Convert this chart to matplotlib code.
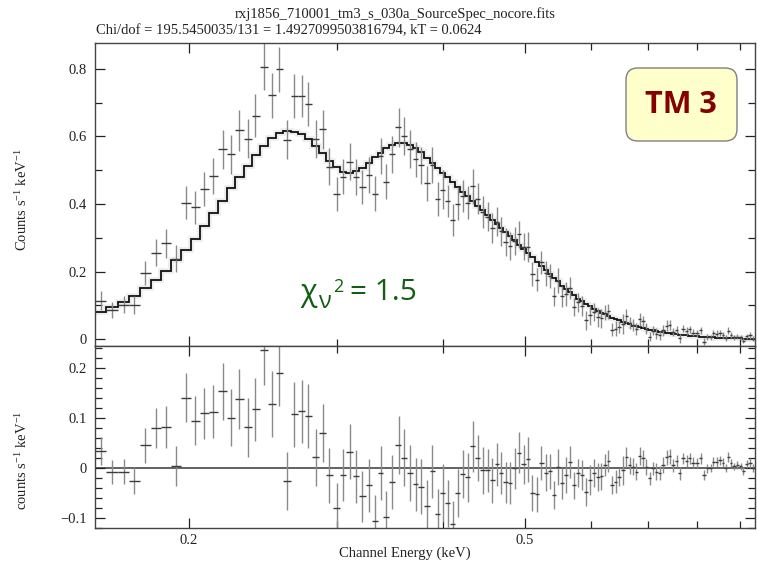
import numpy as np
import matplotlib
matplotlib.use('Agg')
import matplotlib.pyplot as plt
import matplotlib.patheffects as pe
from matplotlib.ticker import FixedLocator, FixedFormatter, NullFormatter, MultipleLocator
from matplotlib.patches import FancyBboxPatch
from matplotlib.transforms import IdentityTransform

plt.rcParams['font.family'] = ['Liberation Serif', 'DejaVu Serif']
plt.rcParams['mathtext.fontset'] = 'custom'
plt.rcParams['mathtext.rm'] = 'Liberation Serif'
plt.rcParams['mathtext.it'] = 'Liberation Serif:italic'

title = 'rxj1856_710001_tm3_s_030a_SourceSpec_nocore.fits'
subtitle = 'Chi/dof = 195.5450035/131 = 1.4927099503816794, kT = 0.0624'

# channel energies (keV, bin centres)
energy = [0.1573, 0.1621, 0.1674, 0.1723, 0.1776, 0.1829, 0.1879, 0.1931, 0.1985, 0.2034,
          0.2086, 0.2138, 0.2193, 0.2244, 0.2296, 0.2349, 0.2399, 0.2454, 0.2510, 0.2561,
          0.2615, 0.2668, 0.2722, 0.2772, 0.2831, 0.2883, 0.2936, 0.2995, 0.3050, 0.3101,
          0.3158, 0.3210, 0.3269, 0.3320, 0.3375, 0.3428, 0.3485, 0.3545, 0.3597, 0.3653,
          0.3714, 0.3772, 0.3830, 0.3887, 0.3947, 0.4001, 0.4056, 0.4112, 0.4169, 0.4226,
          0.4284, 0.4343, 0.4403, 0.4463, 0.4525, 0.4579, 0.4637, 0.4693, 0.4749, 0.4801,
          0.4867, 0.4925, 0.4988, 0.5047, 0.5108, 0.5173, 0.5235, 0.5297, 0.5356, 0.5414,
          0.5479, 0.5545, 0.5606, 0.5656, 0.5718, 0.5781, 0.5845, 0.5909, 0.5974, 0.6040,
          0.6106, 0.6168, 0.6229, 0.6287, 0.6356, 0.6414, 0.6472, 0.6543, 0.6604, 0.6664,
          0.6724, 0.6787, 0.6849, 0.6911, 0.6975, 0.7038, 0.7102, 0.7168, 0.7233, 0.7298,
          0.7367, 0.7433, 0.7501, 0.7571, 0.7640, 0.7709, 0.7781, 0.7851, 0.7922, 0.7996,
          0.8090, 0.8164, 0.8231, 0.8308, 0.8367, 0.8445, 0.8522, 0.8599, 0.8662, 0.8717,
          0.8782, 0.8854, 0.8934, 0.9017, 0.9082, 0.9167, 0.9249, 0.9333]

# folded model (counts s^-1 keV^-1)
model = [0.081, 0.096, 0.110, 0.127, 0.150, 0.175, 0.202, 0.234, 0.264, 0.296,
         0.335, 0.372, 0.409, 0.447, 0.481, 0.513, 0.545, 0.572, 0.595, 0.609,
         0.617, 0.614, 0.607, 0.593, 0.572, 0.552, 0.526, 0.511, 0.496, 0.493,
         0.498, 0.508, 0.522, 0.538, 0.552, 0.565, 0.575, 0.582, 0.582, 0.575,
         0.565, 0.553, 0.537, 0.522, 0.507, 0.493, 0.479, 0.465, 0.451, 0.437,
         0.423, 0.409, 0.395, 0.381, 0.367, 0.354, 0.341, 0.329, 0.317, 0.306,
         0.292, 0.280, 0.267, 0.255, 0.242, 0.229, 0.217, 0.205, 0.194, 0.182,
         0.171, 0.158, 0.148, 0.139, 0.129, 0.120, 0.112, 0.104, 0.097, 0.090,
         0.084, 0.078, 0.073, 0.068, 0.063, 0.059, 0.055, 0.050, 0.046, 0.043,
         0.040, 0.038, 0.035, 0.033, 0.030, 0.028, 0.026, 0.024, 0.022, 0.021,
         0.019, 0.018, 0.016, 0.014, 0.013, 0.012, 0.011, 0.010, 0.009, 0.008,
         0.007, 0.007, 0.006, 0.005, 0.005, 0.004, 0.004, 0.003, 0.003, 0.003,
         0.002, 0.002, 0.002, 0.002, 0.001, 0.001, 0.001, 0.001]

# observed spectrum (counts s^-1 keV^-1)
counts = [0.114, 0.087, 0.102, 0.101, 0.195, 0.255, 0.283, 0.238, 0.404, 0.390,
          0.444, 0.484, 0.562, 0.547, 0.618, 0.594, 0.662, 0.807, 0.722, 0.799,
          0.591, 0.721, 0.720, 0.696, 0.593, 0.621, 0.511, 0.430, 0.481, 0.525,
          0.481, 0.451, 0.487, 0.431, 0.542, 0.466, 0.547, 0.627, 0.602, 0.564,
          0.532, 0.515, 0.461, 0.515, 0.414, 0.442, 0.408, 0.352, 0.401, 0.424,
          0.404, 0.452, 0.415, 0.376, 0.362, 0.329, 0.348, 0.319, 0.288, 0.275,
          0.291, 0.310, 0.274, 0.272, 0.192, 0.176, 0.227, 0.195, 0.187, 0.127,
          0.173, 0.127, 0.133, 0.151, 0.094, 0.109, 0.097, 0.056, 0.072, 0.080,
          0.065, 0.061, 0.078, 0.082, 0.028, 0.031, 0.036, 0.045, 0.068, 0.048,
          0.042, 0.030, 0.058, 0.052, 0.031, 0.007, 0.025, 0.016, 0.011, 0.026,
          0.040, 0.041, 0.021, 0.028, 0.002, 0.031, 0.025, 0.029, 0.019, 0.017,
          0.026, -0.008, 0.005, 0.005, 0.017, 0.016, 0.019, 0.013, 0.003, 0.025,
          0.012, 0.005, 0.007, 0.005, -0.005, 0.008, 0.011, 0.001]

# 1-sigma errors
errors = [0.028, 0.024, 0.025, 0.027, 0.035, 0.040, 0.042, 0.040, 0.049, 0.049,
          0.051, 0.053, 0.057, 0.057, 0.060, 0.059, 0.063, 0.069, 0.066, 0.067,
          0.058, 0.065, 0.063, 0.064, 0.057, 0.058, 0.055, 0.050, 0.052, 0.055,
          0.053, 0.051, 0.053, 0.052, 0.054, 0.052, 0.054, 0.058, 0.057, 0.056,
          0.053, 0.055, 0.052, 0.053, 0.050, 0.058, 0.047, 0.047, 0.048, 0.048,
          0.049, 0.051, 0.046, 0.047, 0.043, 0.045, 0.043, 0.042, 0.041, 0.042,
          0.041, 0.041, 0.039, 0.045, 0.036, 0.035, 0.034, 0.037, 0.035, 0.028,
          0.036, 0.031, 0.036, 0.032, 0.027, 0.028, 0.030, 0.028, 0.030, 0.028,
          0.028, 0.027, 0.022, 0.022, 0.018, 0.023, 0.018, 0.029, 0.020, 0.017,
          0.017, 0.017, 0.018, 0.017, 0.016, 0.013, 0.013, 0.017, 0.014, 0.016,
          0.015, 0.015, 0.013, 0.012, 0.013, 0.011, 0.012, 0.011, 0.011, 0.010,
          0.011, 0.010, 0.009, 0.008, 0.009, 0.010, 0.009, 0.009, 0.008, 0.010,
          0.008, 0.007, 0.008, 0.007, 0.008, 0.008, 0.010, 0.008]

x_major = [0.2, 0.5]
x_major_labels = ['0.2', '0.5']
x_minor = [0.3, 0.4, 0.6, 0.7, 0.8, 0.9]
top_yticks = [0, 0.2, 0.4, 0.6, 0.8]
top_ylabels = ['0', '0.2', '0.4', '0.6', '0.8']
bot_yticks = [-0.1, 0, 0.1, 0.2]
bot_ylabels = ['\u22120.1', '0', '0.1', '0.2']

E = np.array(energy)
M = np.array(model)
C = np.array(counts)
S = np.array(errors)
R = C - M
mids = 0.5 * (E[:-1] + E[1:])
edges = np.concatenate([[E[0] - (mids[0] - E[0])], mids, [E[-1] + (E[-1] - mids[-1])]])
xlo = E - edges[:-1]
xhi = edges[1:] - E

W, H = 757, 569
fig = plt.figure(figsize=(W / 100, H / 100), dpi=100)
L, Rt = 95 / W, 755 / W
ax1 = fig.add_axes([L, 1 - 346 / H, Rt - L, (346 - 43) / H])
ax2 = fig.add_axes([L, 1 - 528 / H, Rt - L, (528 - 346) / H], sharex=ax1)

vcol = '#8a8a8a'
hcol = '#3c3c3c'
halo = [pe.Stroke(linewidth=4, foreground='#ececec'), pe.Normal()]

for ax, yy in ((ax1, C), (ax2, R)):
    ax.errorbar(E, yy, yerr=S, fmt='none', ecolor=vcol, elinewidth=1.0, capsize=0)
    ax.errorbar(E, yy, xerr=[xlo, xhi], fmt='none', ecolor=hcol, elinewidth=1.0, capsize=0)

ax1.stairs(M, edges, baseline=None, color='#111111', linewidth=1.3, path_effects=halo)
ax2.axhline(0, color='#555555', linewidth=1.3, zorder=0.5)

ax1.set_xscale('log')
ax1.set_xlim(0.1548, 0.938)
ax1.set_ylim(-0.0207, 0.877)
ax2.set_ylim(-0.1206, 0.2434)

for ax in (ax1, ax2):
    ax.xaxis.set_major_locator(FixedLocator(x_major))
    ax.xaxis.set_minor_locator(FixedLocator(x_minor))
    ax.xaxis.set_minor_formatter(NullFormatter())
    ax.tick_params(which='both', direction='in', top=True, right=True, colors='#222222',
                   labelsize=10.5, width=0.9)
    ax.tick_params(which='major', length=7)
    ax.tick_params(which='minor', length=5)
    ax.tick_params(axis='y', pad=6)
    for sp in ax.spines.values():
        sp.set_color('#444444')
        sp.set_linewidth(1.0)

ax1.xaxis.set_major_formatter(NullFormatter())
ax2.xaxis.set_major_formatter(FixedFormatter(x_major_labels))
ax2.tick_params(axis='x', pad=4)

ax1.yaxis.set_major_locator(FixedLocator(top_yticks))
ax1.yaxis.set_major_formatter(FixedFormatter(top_ylabels))
ax1.yaxis.set_minor_locator(MultipleLocator(0.1))
ax2.yaxis.set_major_locator(FixedLocator(bot_yticks))
ax2.yaxis.set_major_formatter(FixedFormatter(bot_ylabels))
ax2.yaxis.set_minor_locator(MultipleLocator(0.02))

fig.text(22 / W, 1 - 200 / H, r'Counts s$^{-1}$ keV$^{-1}$', rotation=90, ha='center', va='center',
         fontsize=10.5, color='#222222')
fig.text(22 / W, 1 - 460 / H, r'counts s$^{-1}$ keV$^{-1}$', rotation=90, ha='center', va='center',
         fontsize=10.5, color='#222222')
fig.text(405 / W, 1 - 553 / H, 'Channel Energy (keV)', ha='center', va='center', fontsize=10.5,
         color='#222222')
fig.text(395 / W, 1 - 14 / H, title, ha='center', va='center', fontsize=10.5, color='#222222')
fig.text(96 / W, 1 - 31 / H, subtitle, ha='left', va='center', fontsize=10.5, color='#222222')

# chi^2 annotation
green = '#135e13'
sans = ['Open Sans', 'DejaVu Sans']
fig.text(300 / W, 1 - 301 / H, '\u03c7', fontsize=22, color=green, family=sans, va='baseline')
fig.text(318 / W, 1 - 308 / H, '\u03bd', fontsize=17, color=green, family=sans, va='baseline')
fig.text(333 / W, 1 - 292 / H, '2', fontsize=13, color=green, family=sans, va='baseline')
fig.text(350 / W, 1 - 300 / H, '= 1.5', fontsize=21.5, color=green, family=sans, va='baseline')

# TM 3 box
box = FancyBboxPatch((626, H - 141), 111, 73, boxstyle='round,pad=0,rounding_size=12',
                     facecolor='#ffffcc', edgecolor='#808080', linewidth=1.0,
                     transform=IdentityTransform())
fig.add_artist(box)
fig.text(681 / W, 1 - 105 / H, 'TM 3', ha='center', va='center', fontsize=22, fontweight='bold',
         color='#850000', family=sans)

fig.savefig('out.png', dpi=100)
